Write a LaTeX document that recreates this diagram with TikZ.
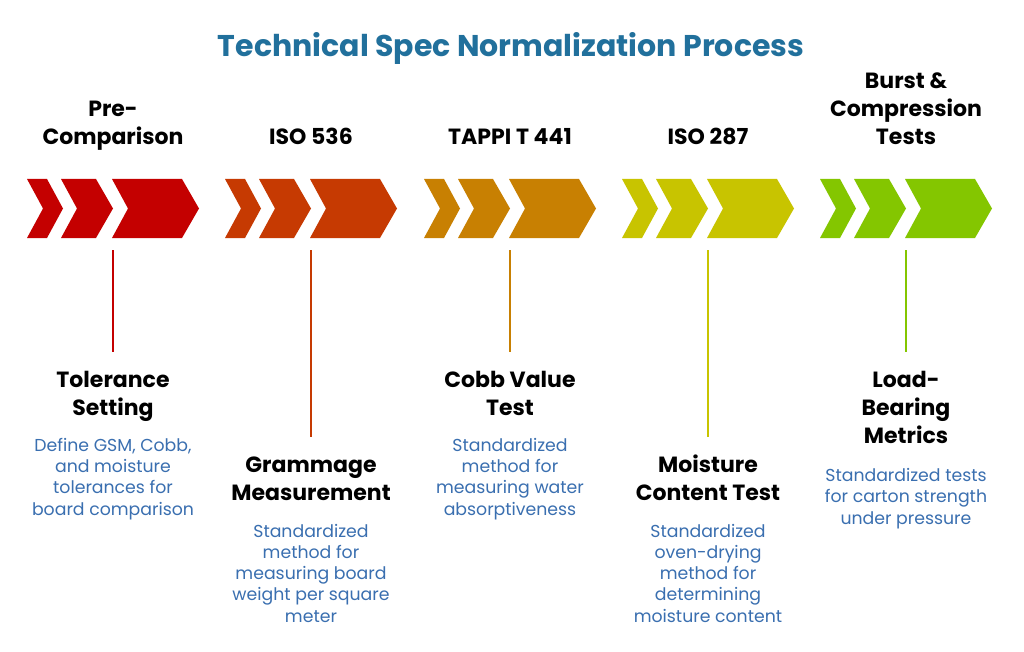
\documentclass[tikz,border=0pt]{standalone}
\usepackage{fontspec}
\setmainfont{Poppins}
\definecolor{titleblue}{HTML}{21709C}
\definecolor{descblue}{HTML}{3A6FB0}
\definecolor{cA}{HTML}{C40000}
\definecolor{cB}{HTML}{C63A02}
\definecolor{cC}{HTML}{C88002}
\definecolor{cD}{HTML}{C8C400}
\definecolor{cE}{HTML}{84C600}
\begin{document}
\begin{tikzpicture}[x=1pt,y=-1pt,
  head/.style={font=\bfseries\fontsize{22}{28}\selectfont, align=center, anchor=base, inner sep=0pt},
  desc/.style={font=\fontsize{17.3}{21.2}\selectfont, text=descblue, align=center, anchor=base, inner sep=0pt},
  conn/.style={line width=2pt}]
\useasboundingbox[fill=white] (0,0) rectangle (1024,652);
\node[font=\bfseries\fontsize{30}{34}\selectfont, text=titleblue, anchor=base, inner sep=0pt] (title) at (511,57) {Technical Spec Normalization Process};
\foreach \x/\c/\n in {27/cA/1,225/cB/2,424/cC/3,622/cD/4,820/cE/5}{
  \fill[\c] (\x,179) -- ++(20,0) -- ++(16,29.5) -- ++(-16,29.5) -- ++(-20,0) -- ++(16,-29.5) -- cycle;
  \fill[\c] (\x+34,179) -- ++(35,0) -- ++(17,29.5) -- ++(-17,29.5) -- ++(-35,0) -- ++(16,-29.5) -- cycle;
  \fill[\c] (\x+85,179) -- ++(70,0) -- ++(17,29.5) -- ++(-17,29.5) -- ++(-70,0) -- ++(16,-29.5) -- cycle;
}
% top labels (anchor = baseline of last line)
\node[head] (t1) at (113,145) {Pre-\\Comparison};
\node[head] (t2) at (311,145) {ISO 536};
\node[head] (t3) at (510,145) {TAPPI T 441};
\node[head] (t4) at (708,145) {ISO 287};
\node[head] (t5) at (906,145) {Burst \&\\Compression\\Tests};
% connectors
\coordinate (a1) at (113,250); \coordinate (b1) at (113,352);
\coordinate (a2) at (311,250); \coordinate (b2) at (311,437);
\coordinate (a3) at (510,250); \coordinate (b3) at (510,352);
\coordinate (a4) at (708,250); \coordinate (b4) at (708,437);
\coordinate (a5) at (906,250); \coordinate (b5) at (906,352);
\draw[conn,cA] (a1) -- (b1);
\draw[conn,cB] (a2) -- (b2);
\draw[conn,cC] (a3) -- (b3);
\draw[conn,cD] (a4) -- (b4);
\draw[conn,cE] (a5) -- (b5);
% bottom headings
\node[head] (h1) at (113,415) {Tolerance\\Setting};
\node[head] (h2) at (311,500) {Grammage\\Measurement};
\node[head] (h3) at (510,415) {Cobb Value\\Test};
\node[head] (h4) at (708,500) {Moisture\\Content Test};
\node[head] (h5) at (906,443) {Load-\\Bearing\\Metrics};
% descriptions
\node[desc] (d1) at (113,515) {Define GSM, Cobb,\\and moisture\\tolerances for\\board comparison};
\node[desc] (d2) at (311,622) {Standardized\\method for\\measuring board\\weight per square\\meter};
\node[desc] (d3) at (510,515) {Standardized\\method for\\measuring water\\absorptiveness};
\node[desc] (d4) at (708,622) {Standardized\\oven-drying\\method for\\determining\\moisture content};
\node[desc] (d5) at (906,524) {Standardized tests\\for carton strength\\under pressure};
\end{tikzpicture}
\end{document}
